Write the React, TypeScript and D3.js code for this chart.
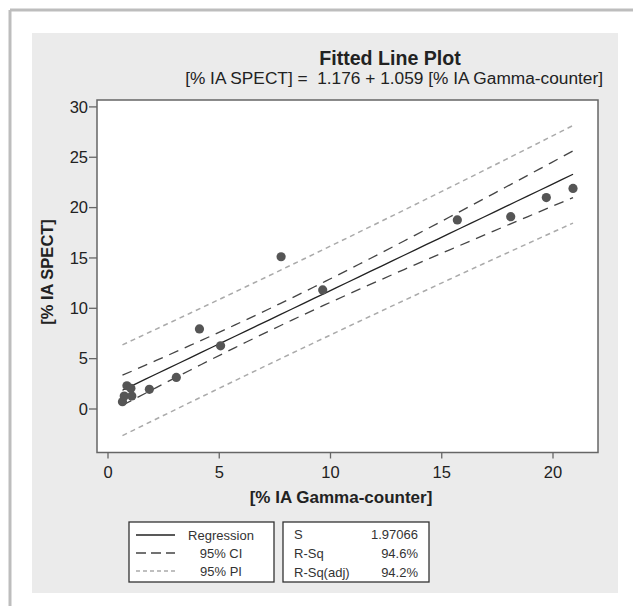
import * as d3 from "d3";

// readings from the picture
const gammaCounter = [0.65, 0.73, 0.85, 1.03, 1.07, 1.86, 3.07, 4.11, 5.06, 7.78, 9.65, 15.7, 18.1, 19.7, 20.9];
const spect = [0.72, 1.29, 2.31, 2.05, 1.29, 1.95, 3.14, 7.95, 6.27, 15.12, 11.82, 18.78, 19.1, 21.0, 21.9];

const xTicks = [0, 5, 10, 15, 20];
const yTicks = [0, 5, 10, 15, 20, 25, 30];

// fit reported on the chart
const intercept = 1.176;
const slope = 1.059;
const sValue = 1.97066;
const tCrit = 2.16; // t(0.975, n-2)

const legendItems = ["Regression", "95% CI", "95% PI"];
const statLabels = ["S", "R-Sq", "R-Sq(adj)"];
const statValues = ["1.97066", "94.6%", "94.2%"];

const font = "'Liberation Sans', Arial, Helvetica, sans-serif";

const frame = { left: 97, right: 598, top: 100, bottom: 452.5 };

export default function App() {
  const x = d3.scaleLinear().domain([0, 20]).range([108, 553]);
  const y = d3.scaleLinear().domain([0, 10]).range([409, 308.3]);

  const n = gammaCounter.length;
  const xbar = d3.mean(gammaCounter) as number;
  const sxx = d3.sum(gammaCounter, (v) => (v - xbar) ** 2);
  const [xMin, xMax] = d3.extent(gammaCounter) as [number, number];
  const grid = d3.range(0, 41).map((i) => xMin + ((xMax - xMin) * i) / 40);

  const fit = (v: number) => intercept + slope * v;
  const ciHalf = (v: number) => tCrit * sValue * Math.sqrt(1 / n + (v - xbar) ** 2 / sxx);
  const piHalf = (v: number) => tCrit * sValue * Math.sqrt(1 + 1 / n + (v - xbar) ** 2 / sxx);

  const line = (fn: (v: number) => number) =>
    d3
      .line<number>()
      .x((v) => x(v))
      .y((v) => y(fn(v)))(grid) as string;

  return (
    <svg
      width={633}
      height={606}
      style={{ position: "fixed", left: 0, top: 0, display: "block", background: "#fff" }}
      fontFamily={font}
    >
      {/* outer border */}
      <line x1={10} y1={10} x2={633} y2={10} stroke="#bdbdbd" strokeWidth={3} />
      <line x1={10} y1={10} x2={10} y2={606} stroke="#bdbdbd" strokeWidth={3} />

      <rect x={32} y={33} width={586} height={560} fill="#ebebeb" />

      <text x={390} y={65} textAnchor="middle" fontSize={19.6} fontWeight="bold" fill="#222">
        Fitted Line Plot
      </text>
      <text x={603} y={84} textAnchor="end" fontSize={17.3} fill="#222" xmlSpace="preserve">
        {"[% IA SPECT] =  1.176 + 1.059 [% IA Gamma-counter]"}
      </text>

      <rect
        x={frame.left}
        y={frame.top}
        width={frame.right - frame.left}
        height={frame.bottom - frame.top}
        fill="#fff"
        stroke="#666"
        strokeWidth={1.5}
      />

      {/* y axis */}
      {yTicks.map((t) => (
        <g key={"y" + t}>
          <line x1={frame.left - 8} x2={frame.left} y1={y(t)} y2={y(t)} stroke="#666" strokeWidth={1.3} />
          <text x={frame.left - 9} y={y(t)} dy="0.35em" textAnchor="end" fontSize={16.5} fill="#222">
            {t}
          </text>
        </g>
      ))}
      {/* x axis */}
      {xTicks.map((t) => (
        <g key={"x" + t}>
          <line x1={x(t)} x2={x(t)} y1={frame.bottom} y2={frame.bottom + 6} stroke="#666" strokeWidth={1.3} />
          <text x={x(t)} y={478} textAnchor="middle" fontSize={16.5} fill="#222">
            {t}
          </text>
        </g>
      ))}

      <text x={341} y={503} textAnchor="middle" fontSize={17} fontWeight="bold" fill="#222">
        [% IA Gamma-counter]
      </text>
      <text
        transform="translate(53,272) rotate(-90)"
        textAnchor="middle"
        fontSize={16.5}
        fontWeight="bold"
        fill="#222"
      >
        [% IA SPECT]
      </text>

      {/* bands and fit */}
      <path d={line((v) => fit(v) + piHalf(v))} fill="none" stroke="#aaa" strokeWidth={1.5} strokeDasharray="5,4" />
      <path d={line((v) => fit(v) - piHalf(v))} fill="none" stroke="#aaa" strokeWidth={1.5} strokeDasharray="5,4" />
      <path d={line((v) => fit(v) + ciHalf(v))} fill="none" stroke="#444" strokeWidth={1.3} strokeDasharray="10,7" />
      <path d={line((v) => fit(v) - ciHalf(v))} fill="none" stroke="#444" strokeWidth={1.3} strokeDasharray="10,7" />
      <path d={line(fit)} fill="none" stroke="#222" strokeWidth={1.3} />

      {gammaCounter.map((v, i) => (
        <circle key={i} cx={x(v)} cy={y(spect[i])} r={4.6} fill="#555" />
      ))}

      {/* legend */}
      <rect x={129} y={522} width={145} height={60} fill="#fff" stroke="#333" strokeWidth={1.3} />
      {legendItems.map((label, i) => {
        const ly = 535 + i * 18;
        const style =
          i === 0
            ? { stroke: "#222", dash: undefined, w: 1.3 }
            : i === 1
            ? { stroke: "#444", dash: "10,5", w: 1.3 }
            : { stroke: "#aaa", dash: "4,3", w: 1.3 };
        return (
          <g key={label}>
            <line x1={136} x2={175} y1={ly} y2={ly} stroke={style.stroke} strokeWidth={style.w} strokeDasharray={style.dash} />
            <text x={221} y={ly} dy="0.35em" textAnchor="middle" fontSize={13} fill="#333">
              {label}
            </text>
          </g>
        );
      })}

      <rect x={283} y={522} width={146} height={60} fill="#fff" stroke="#333" strokeWidth={1.3} />
      {statLabels.map((label, i) => {
        const ly = 534 + i * 19;
        return (
          <g key={label}>
            <text x={294} y={ly} dy="0.35em" fontSize={13} fill="#333">
              {label}
            </text>
            <text x={418} y={ly} dy="0.35em" textAnchor="end" fontSize={13} fill="#333">
              {statValues[i]}
            </text>
          </g>
        );
      })}
    </svg>
  );
}
